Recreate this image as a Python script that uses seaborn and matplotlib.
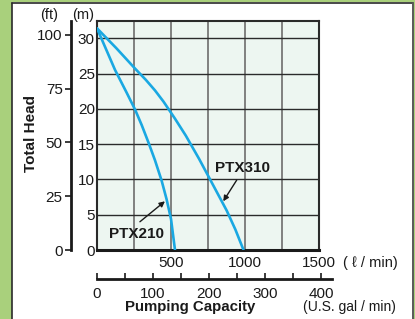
import matplotlib
matplotlib.use("Agg")
import numpy as np
import pandas as pd
import seaborn as sns
import matplotlib.pyplot as plt
from matplotlib.patches import Rectangle
from matplotlib.lines import Line2D

# ---- data ----
models = ["PTX210", "PTX310"]
flow_210 = [0, 122, 200, 257, 302, 350, 392, 437, 470, 500, 527]          # l/min
head_210 = [31.4, 25.5, 22.3, 19.9, 17.7, 15.1, 12.7, 9.8, 7.2, 4.4, 0]    # m
flow_310 = [0, 130, 257, 330, 392, 450, 527, 600, 690, 764, 820, 876, 935, 990]
head_310 = [31.4, 28.6, 25.7, 24.1, 22.6, 21.0, 18.6, 16.2, 12.9, 10.0, 7.8, 5.6, 2.9, 0]
x_ticks = [0, 250, 500, 750, 1000, 1250, 1500]
x_labels = ["", "", "500", "", "1000", "", "1500"]
m_ticks = [0, 5, 10, 15, 20, 25, 30]
ft_ticks = [0, 25, 50, 75, 100]
gal_major = [0, 100, 200, 300, 400]
gal_minor = [50, 150, 250, 350]

df = pd.concat([
    pd.DataFrame({"flow": flow_210, "head": head_210, "model": models[0]}),
    pd.DataFrame({"flow": flow_310, "head": head_310, "model": models[1]}),
])

sns.set_theme(style="white")
plt.rcParams["font.family"] = ["Liberation Sans", "DejaVu Sans"]

W, H = 415, 319
def fx(px): return px / W
def fy(py): return 1 - py / H

green = "#a9d07c"
curve = "#1aa8e2"
fig = plt.figure(figsize=(4.15, 3.19), dpi=100)
fig.patch.set_facecolor(green)
fig.patches.append(Rectangle((fx(12), -0.05), fx(412) - fx(12), fy(2.5) + 0.05,
                             transform=fig.transFigure, facecolor="white",
                             edgecolor="none", zorder=-10))
fig.lines.append(Line2D([fx(11.8), fx(11.8)], [0, fy(2.5)], transform=fig.transFigure,
                        color="#2a2a2a", lw=1.2, zorder=-5))
fig.lines.append(Line2D([fx(11.8), fx(412.5)], [fy(2.5), fy(2.5)], transform=fig.transFigure,
                        color="#2a2a2a", lw=1.2, zorder=-5))
fig.lines.append(Line2D([fx(413), fx(413)], [0, fy(2.5)], transform=fig.transFigure,
                        color="#5a5a5a", lw=1.4, zorder=-5))

XMAX = 1500
YMAX = (250 - 21) / 35.3 * 5
ax = fig.add_axes([fx(97), fy(250), (319 - 97) / W, (250 - 21) / H])
ax.set_facecolor("#edf6f1")
sns.lineplot(data=df, x="flow", y="head", hue="model", units="model",
             palette={m: curve for m in models}, estimator=None, sort=False,
             legend=False, lw=1.9, ax=ax, zorder=3)
for ln in ax.lines:
    ln.set_solid_joinstyle("round")
ax.set_xlim(0, XMAX)
ax.set_ylim(0, YMAX)
ax.set_xticks(x_ticks)
ax.set_xticklabels(x_labels)
ax.set_yticks(m_ticks)
ax.set_yticklabels([str(v) for v in m_ticks])
ax.set_xlabel("")
ax.set_ylabel("")
ax.xaxis.grid(True, color="#777777", lw=1.3)
ax.yaxis.grid(True, color="#2b2b2b", lw=1.0)
ax.set_axisbelow(True)
ax.tick_params(axis="both", length=0, labelsize=11, colors="#1a1a1a")
ax.tick_params(axis="x", pad=4.5)
ax.tick_params(axis="y", pad=1.5)
for s in ["left", "right", "top"]:
    ax.spines[s].set_color("#2a2a2a")
    ax.spines[s].set_linewidth(1.5)
ax.spines["bottom"].set_color("#1a1a1a")
ax.spines["bottom"].set_linewidth(2.2)

# annotations
ax.annotate("", xy=(853, 6.9), xytext=(944, 9.9),
            arrowprops=dict(arrowstyle="-|>", color="#1a1a1a", lw=1.0,
                            mutation_scale=8, shrinkA=0, shrinkB=0), zorder=4)
ax.annotate("", xy=(459, 6.9), xytext=(290, 4.0),
            arrowprops=dict(arrowstyle="-|>", color="#1a1a1a", lw=1.0,
                            mutation_scale=8, shrinkA=0, shrinkB=0), zorder=4)
ax.text(986, 11.6, "PTX310", ha="center", va="center", fontsize=11,
        fontweight="bold", color="#1a1a1a", zorder=5)
ax.text(264, 2.27, "PTX210", ha="center", va="center", fontsize=11,
        fontweight="bold", color="#1a1a1a", zorder=5)

# feet axis
ax_ft = ax.twinx()
ax_ft.set_ylim(0, YMAX / 0.3048)
ax_ft.yaxis.tick_left()
ax_ft.set_yticks(ft_ticks)
ax_ft.set_yticklabels([str(v) for v in ft_ticks])
for s in ["right", "top", "bottom"]:
    ax_ft.spines[s].set_visible(False)
ax_ft.spines["left"].set_position(("outward", 26 * 0.72))
ax_ft.spines["left"].set_linewidth(2.0)
ax_ft.spines["left"].set_color("#1a1a1a")
ax_ft.tick_params(axis="y", direction="out", length=4.5, width=1.2, pad=1.5,
                  labelsize=11, colors="#1a1a1a", left=True, right=False,
                  labelleft=True, labelright=False)
ax_ft.grid(False)

# gallon axis
GMAX = (332 - 97) / 222 * 1500 / 3.78541
ax_g = fig.add_axes([fx(97), fy(279), (332 - 97) / W, 0.01])
ax_g.patch.set_visible(False)
ax_g.set_xlim(0, GMAX)
ax_g.set_xticks(gal_major)
ax_g.set_xticklabels([str(v) for v in gal_major])
ax_g.set_xticks(gal_minor, minor=True)
ax_g.set_yticks([])
for s in ["left", "right", "top"]:
    ax_g.spines[s].set_visible(False)
ax_g.spines["bottom"].set_linewidth(2.0)
ax_g.spines["bottom"].set_color("#1a1a1a")
ax_g.tick_params(axis="x", which="both", direction="in", length=4.5, width=1.2,
                 colors="#1a1a1a", bottom=True)
ax_g.tick_params(axis="x", which="major", pad=5.5, labelsize=11)
ax_g.grid(False)

# texts
fig.text(fx(49), fy(15), "(ft)", ha="center", va="center", fontsize=10.5, color="#1a1a1a")
fig.text(fx(83.5), fy(15), "(m)", ha="center", va="center", fontsize=10.5, color="#1a1a1a")
fig.text(fx(31), fy(134), "Total Head", rotation=90, ha="center", va="center",
         fontsize=11, fontweight="bold", color="#1a1a1a")
fig.text(fx(343), fy(263), "( ℓ / min)", ha="left", va="center", fontsize=10.5,
         color="#1a1a1a")
fig.text(fx(190), fy(307), "Pumping Capacity", ha="center", va="center",
         fontsize=10.8, fontweight="bold", color="#1a1a1a")
fig.text(fx(349.5), fy(307), "(U.S. gal / min)", ha="center", va="center",
         fontsize=10, color="#1a1a1a")

fig.savefig("out.png", dpi=100, facecolor=fig.get_facecolor())
